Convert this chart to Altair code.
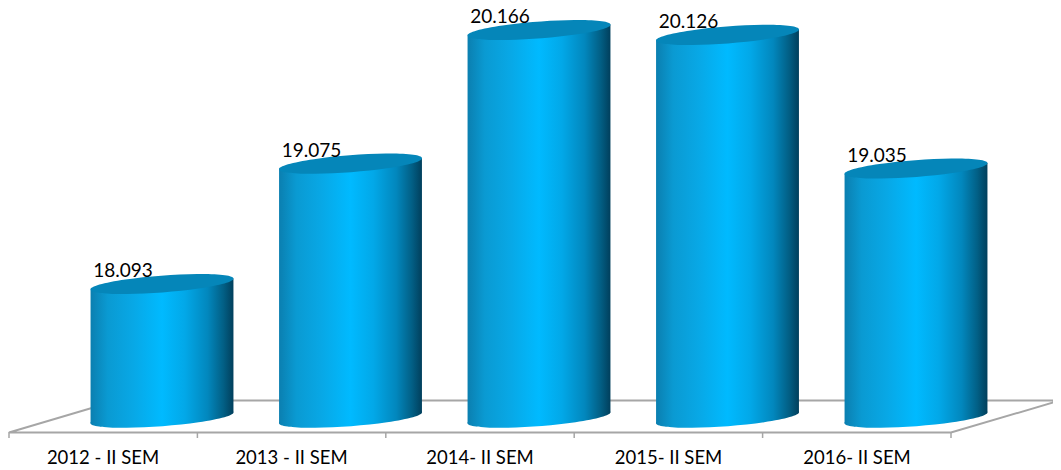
import altair as alt
import pandas as pd

categories = ["2012 - II SEM", "2013 - II SEM", "2014- II SEM", "2015- II SEM", "2016- II SEM"]
values = [18093, 19075, 20166, 20126, 19035]
value_labels = ["18.093", "19.075", "20.166", "20.126", "19.035"]

PAD_TOP = 6
W, H = 1045, 456
TOP_PAGE = 8 + PAD_TOP      # page y of the plot's top edge
PX_PER_CAT = 188.5          # px per category step
PX_PER_UNIT = 0.1225        # px per value unit
Y_TOP = 20345.6 - PAD_TOP / PX_PER_UNIT   # value at the plot's top edge
X_LEFT = -0.817             # category index at the plot's left edge
BASE = 17001                # value at the foot of every cylinder
HALF = 0.379                # half cylinder width in category steps
TILT = 45                   # value units between centre and end of the tilted rim
CYL_PX = 143


def vy(page_y):
    return Y_TOP - (page_y - TOP_PAGE) / PX_PER_UNIT


def ix(page_x):
    return X_LEFT + (page_x - 8) / PX_PER_CAT


x_scale = alt.Scale(domain=[X_LEFT, X_LEFT + W / PX_PER_CAT], range=[0, W], nice=False, zero=False)
y_scale = alt.Scale(domain=[Y_TOP - H / PX_PER_UNIT, Y_TOP], range=[H, 0], nice=False, zero=False)
X = lambda f: alt.X(f, type="quantitative", scale=x_scale, axis=None)
Y = lambda f: alt.Y(f, type="quantitative", scale=y_scale, axis=None)

gradient = alt.Gradient(
    gradient="linear", x1=0, y1=0, x2=1, y2=0,
    stops=[
        alt.GradientStop(offset=0, color="#0b7fb0"),
        alt.GradientStop(offset=0.12, color="#0a9ad2"),
        alt.GradientStop(offset=0.3, color="#08a8e6"),
        alt.GradientStop(offset=0.5, color="#00baff"),
        alt.GradientStop(offset=0.66, color="#02a8e8"),
        alt.GradientStop(offset=0.82, color="#0287bd"),
        alt.GradientStop(offset=0.93, color="#025f85"),
        alt.GradientStop(offset=1, color="#013f5c"),
    ],
)
ELLIPSE = "M-1 0.077 A1.003 0.117 -4.4 1 1 1 -0.077 A1.003 0.117 -4.4 1 1 -1 0.077 Z"

rows = pd.DataFrame({"i": range(5), "cat": categories, "v": values, "label": value_labels})
rows["base"] = BASE
rows["lx"] = rows["i"] - 59 / PX_PER_CAT
rows["ly"] = vy(458)

body = pd.DataFrame(
    [{"i": i, "px": i - HALF, "vtop": v - TILT, "vbot": BASE - TILT} for i, v in enumerate(values)]
    + [{"i": i, "px": i + HALF, "vtop": v + TILT, "vbot": BASE + TILT} for i, v in enumerate(values)]
).sort_values(["i", "px"])

floor = pd.DataFrame({
    "x": [ix(9), ix(951), ix(1060), ix(117), ix(9)],
    "y": [vy(432.5), vy(432.5), vy(400.5), vy(400.5), vy(432.5)],
    "o": [0, 1, 2, 3, 4],
})
ticks = pd.DataFrame({"x": [ix(9 + 188.4 * k) for k in range(6)]})
ticks["y"] = vy(432)
ticks["y2"] = vy(438)

floor_l = alt.Chart(floor).mark_line(color="#a6a6a6", strokeWidth=2).encode(X("x"), Y("y"), order="o:Q")
tick_l = alt.Chart(ticks).mark_rule(color="#a6a6a6", strokeWidth=1.5).encode(X("x"), Y("y"), y2="y2:Q")
foot = alt.Chart(rows).mark_point(shape=ELLIPSE, size=CYL_PX**2, filled=True, opacity=1, fill=gradient, stroke=None).encode(X("i"), Y("base"))
cyl = alt.Chart(body).mark_area(fill=gradient, opacity=1, orient="vertical").encode(X("px"), Y("vtop"), y2=alt.Y2("vbot"), detail="i:N")
lid = alt.Chart(rows).mark_point(shape=ELLIPSE, size=CYL_PX**2, filled=True, opacity=1, fill="#0586b9", stroke=None).encode(X("i"), Y("v"))
val_t = alt.Chart(rows).mark_text(font="Lato", fontSize=19, color="#000000", dx=-39, dy=-13).encode(X("i"), Y("v"), text="label:N")
cat_t = alt.Chart(rows).mark_text(font="Lato", fontSize=18.5, color="#000000").encode(X("lx"), Y("ly"), text="cat:N")

chart = (
    alt.layer(floor_l, tick_l, foot, cyl, lid, val_t, cat_t)
    .properties(width=W, height=H, padding={"top": PAD_TOP, "left": 0, "right": 0, "bottom": 0},
                autosize=alt.AutoSizeParams(type="none"), background="white")
    .configure_view(stroke=None)
)
chart.save("out.html", embed_options={"renderer": "svg", "actions": False})
